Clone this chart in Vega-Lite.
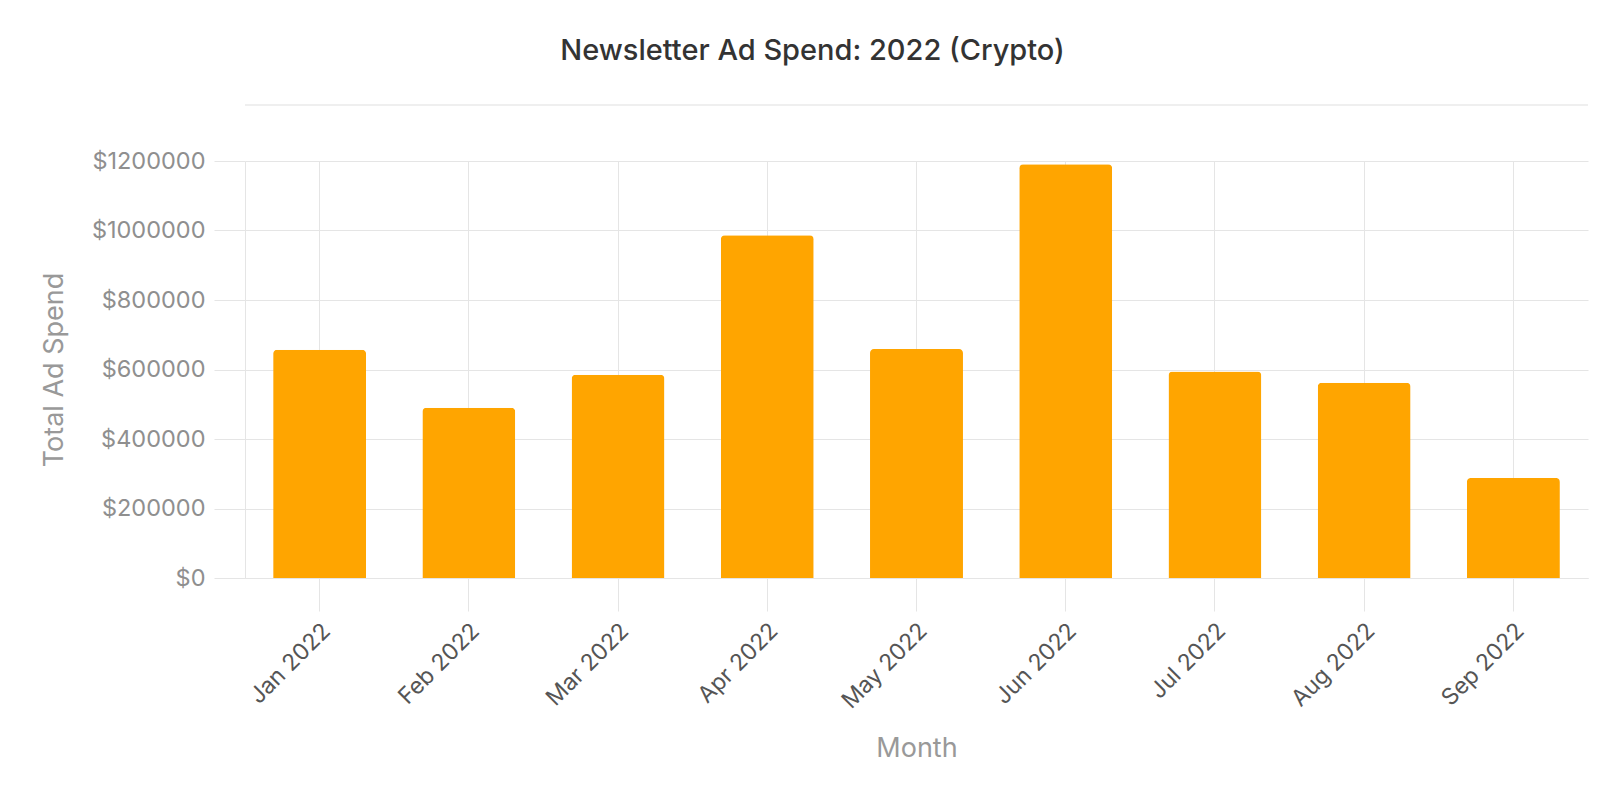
{
  "$schema": "https://vega.github.io/schema/vega-lite/v6.json",
  "width": 1343,
  "height": 417,
  "autosize": {"type": "none"},
  "padding": {"left": 245, "top": 161, "right": 32, "bottom": 224},
  "background": "#ffffff",
  "title": {
    "text": "Newsletter Ad Spend: 2022 (Crypto)",
    "frame": "group",
    "anchor": "middle",
    "dx": -104,
    "offset": 15,
    "baseline": "alphabetic",
    "font": "Inter",
    "fontSize": 29,
    "fontWeight": 500,
    "color": "#333333"
  },
  "config": {
    "view": {"stroke": null},
    "font": "Inter"
  },
  "data": {
    "values": [
      {"month": "Jan 2022", "spend": 657000},
      {"month": "Feb 2022", "spend": 490000},
      {"month": "Mar 2022", "spend": 585000},
      {"month": "Apr 2022", "spend": 986000},
      {"month": "May 2022", "spend": 659000},
      {"month": "Jun 2022", "spend": 1190500},
      {"month": "Jul 2022", "spend": 594000},
      {"month": "Aug 2022", "spend": 562000},
      {"month": "Sep 2022", "spend": 288000}
    ]
  },
  "layer": [
    {
      "mark": {
        "type": "bar",
        "color": "#ffa500",
        "cornerRadiusTopLeft": 4,
        "cornerRadiusTopRight": 4
      },
      "encoding": {
        "x": {
          "field": "month",
          "type": "ordinal",
          "sort": null,
          "scale": {"paddingInner": 0.377, "paddingOuter": 0.1885},
          "axis": {
            "title": "Month",
            "titleFont": "Inter",
            "titleFontSize": 27,
            "titleFontWeight": 400,
            "titleColor": "#999999",
            "titleBaseline": "alphabetic",
            "titleY": 178,
            "labelAngle": -45,
            "labelAlign": "right",
            "labelBaseline": "middle",
            "labelFont": "Inter",
            "labelFontSize": 23,
            "labelColor": "#555555",
            "labelPadding": 16,
            "labelOffset": 7,
            "bandPosition": 0.5,
            "grid": true,
            "gridColor": "#e5e5e5",
            "gridWidth": 1,
            "ticks": true,
            "tickSize": 33,
            "tickColor": "#e5e5e5",
            "tickWidth": 1,
            "domain": true,
            "domainColor": "#e5e5e5",
            "domainWidth": 1
          }
        },
        "y": {
          "field": "spend",
          "type": "quantitative",
          "title": "Total Ad Spend",
          "scale": {"domain": [0, 1200000], "nice": false},
          "axis": {
            "title": "Total Ad Spend",
            "titleFont": "Inter",
            "titleFontSize": 27,
            "titleFontWeight": 400,
            "titleColor": "#999999",
            "titleBaseline": "alphabetic",
            "titleX": -183,
            "titleY": 208.5,
            "values": [0, 200000, 400000, 600000, 800000, 1000000, 1200000],
            "format": "$d",
            "labelFont": "Inter",
            "labelFontSize": 23.5,
            "labelColor": "#8f8f8f",
            "labelPadding": 9,
            "grid": true,
            "gridColor": "#e5e5e5",
            "gridWidth": 1,
            "ticks": true,
            "tickSize": 31,
            "tickColor": "#e5e5e5",
            "tickWidth": 1,
            "domain": true,
            "domainColor": "#e5e5e5",
            "domainWidth": 1
          }
        }
      }
    },
    {
      "mark": {"type": "rule", "color": "#efefef", "strokeWidth": 2},
      "encoding": {
        "y": {"datum": 1361000, "type": "quantitative", "title": "Total Ad Spend"}
      }
    }
  ]
}
